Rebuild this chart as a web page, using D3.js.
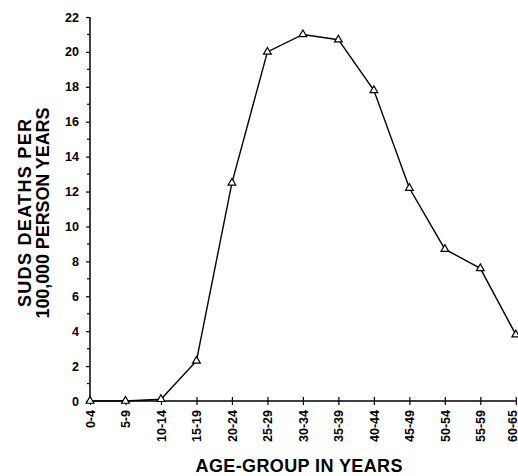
<!DOCTYPE html>
<html><head><meta charset="utf-8">
<script src="https://cdn.jsdelivr.net/npm/d3@7"></script>
<style>body{margin:0;background:#fff}svg{display:block}text{font-family:"Liberation Sans",Arial,sans-serif;font-weight:bold;fill:#000}</style>
</head><body>
<svg id="c" width="518" height="476"></svg>
<script>
const ageGroups = ["0-4","5-9","10-14","15-19","20-24","25-29","30-34","35-39","40-44","45-49","50-54","55-59","60-65"];
const deathRates = [0, 0, 0.1, 2.3, 12.5, 20.0, 21.0, 20.7, 17.8, 12.2, 8.7, 7.6, 3.8];
const yMajorTicks = [0,2,4,6,8,10,12,14,16,18,20,22];
const yMinorTicks = [1,3,5,7,9,11,13,15,17,19,21];

const svg = d3.select("#c");
const x = d3.scalePoint().domain(ageGroups).range([90, 515.8]).padding(0);
const y = d3.scaleLinear().domain([0, 22]).range([401, 17]);

// Y axis
const gy = svg.append("g").attr("transform","translate(90,0)")
  .call(d3.axisLeft(y).tickValues(yMajorTicks).tickSize(4).tickPadding(7).tickFormat(d3.format("d")));
gy.select(".domain").attr("stroke","#000").attr("stroke-width",1.5).attr("d","M0,17V401");
gy.selectAll("text").attr("font-size",12.5).attr("font-family","Liberation Sans, Arial, sans-serif").attr("font-weight","bold");
gy.selectAll(".tick line").attr("stroke","#000").attr("stroke-width",1.2);
svg.append("g").selectAll("line").data(yMinorTicks).join("line")
  .attr("x1",87).attr("x2",90).attr("y1",d=>y(d)).attr("y2",d=>y(d))
  .attr("stroke","#000").attr("stroke-width",1.2);

// X axis
const gx = svg.append("g").attr("transform","translate(0,401)")
  .call(d3.axisBottom(x).tickSize(4));
gx.select(".domain").attr("stroke","#000").attr("stroke-width",1.5).attr("d","M90,0H515.8");
gx.selectAll(".tick line").attr("y1",-4).attr("y2",4).attr("stroke","#000").attr("stroke-width",1.2);
gx.selectAll(".tick text")
  .attr("font-size",12.5).attr("font-family","Liberation Sans, Arial, sans-serif").attr("font-weight","bold")
  .attr("transform","rotate(-90)").attr("text-anchor","end")
  .attr("x",-9).attr("y",(d,i)=> i === ageGroups.length-1 ? -4 : 0).attr("dy","0.34em");

// Line
const line = d3.line().x((d,i)=>x(ageGroups[i])).y(d=>y(d));
svg.append("path").datum(deathRates).attr("d",line)
  .attr("fill","none").attr("stroke","#000").attr("stroke-width",1.4);

// Markers
svg.append("g").selectAll("path").data(deathRates).join("path")
  .attr("d", d3.symbol().type(d3.symbolTriangle).size(26))
  .attr("transform",(d,i)=>`translate(${x(ageGroups[i])},${y(d)})`)
  .attr("fill","#fff").attr("stroke","#000").attr("stroke-width",1.2);

// Titles
svg.append("text").attr("x",299).attr("y",472).attr("text-anchor","middle")
  .attr("font-size",18).attr("textLength",207).attr("lengthAdjust","spacing").text("AGE-GROUP IN YEARS");
const yl = svg.append("g").attr("transform","translate(0,213) rotate(-90)");
yl.append("text").attr("x",0).attr("y",31).attr("text-anchor","middle").attr("font-size",18)
  .attr("textLength",188).attr("lengthAdjust","spacing").text("SUDS DEATHS PER");
yl.append("text").attr("x",0).attr("y",49).attr("text-anchor","middle").attr("font-size",18)
  .attr("textLength",211).attr("lengthAdjust","spacing").text("100,000 PERSON YEARS");
</script>
</body></html>
